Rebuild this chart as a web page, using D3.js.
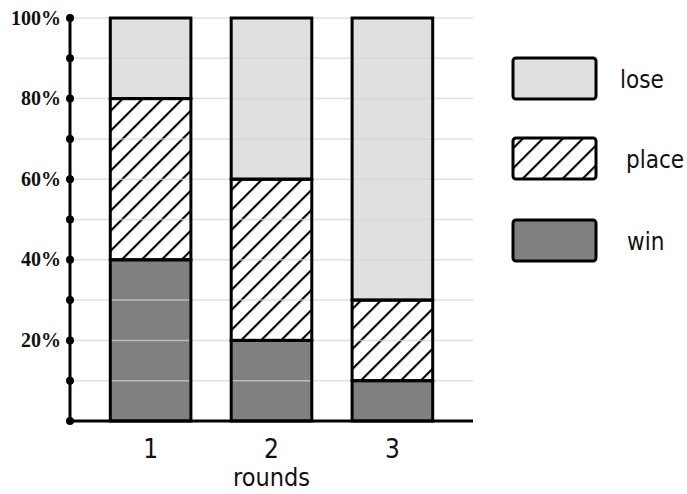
<!doctype html>
<html>
<head>
<meta charset="utf-8" />
<script src="https://cdn.jsdelivr.net/npm/d3@7"></script>
<style>
  body { margin: 0; background: #fff; }
  svg { display: block; }
</style>
</head>
<body>
<script type="text/javascript">

 var rounds = ["1", "2", "3"];
 var win = [40, 20, 10];
 var place = [40, 40, 20];
 var lose = [20, 40, 70];
 var yTicks = [20, 40, 60, 80, 100];
 var seriesNames = ["lose", "place", "win"];

 var w = 687, h = 494;
 var plotLeft = 70, plotRight = 473, plotTop = 18, plotBottom = 421;

 var svg = d3.select("body").append("svg")
     .attr("width", w)
     .attr("height", h);

 var defs = svg.append("defs");
 var pat = defs.append("pattern")
     .attr("id", "hatch")
     .attr("patternUnits", "userSpaceOnUse")
     .attr("width", 14.14)
     .attr("height", 14.14)
     .attr("patternTransform", "rotate(45)");
 pat.append("rect").attr("width", 14.14).attr("height", 14.14).attr("fill", "#fff");
 pat.append("line")
     .attr("x1", 1).attr("y1", 0).attr("x2", 1).attr("y2", 14.14)
     .attr("stroke", "#000").attr("stroke-width", 2.2);

 var fills = {win: "#808080", place: "url(#hatch)", lose: "#e0e0e0"};

 var data = rounds.map(function(r, i){
     return {round: r, win: win[i], place: place[i], lose: lose[i]};
 });

 var stack = d3.stack().keys(["win", "place", "lose"])(data);

 var xScale = d3.scaleBand()
     .domain(rounds)
     .range([plotLeft, plotRight])
     .paddingInner(1/3)
     .paddingOuter(1/3);

 var yScale = d3.scaleLinear()
     .domain([0, 100])
     .range([plotBottom, plotTop]);

 var segs = function(cls){
     return svg.selectAll("g." + cls)
         .data(stack)
         .enter()
         .append("g")
         .attr("class", cls)
         .selectAll("rect")
         .data(function(d){ return d.map(function(p){ p.key = d.key; return p; }); })
         .enter()
         .append("rect")
         .attr("x", function(d){ return xScale(d.data.round); })
         .attr("width", xScale.bandwidth())
         .attr("y", function(d){ return yScale(d[1]); })
         .attr("height", function(d){ return yScale(d[0]) - yScale(d[1]); });
 };

 // bar fills
 segs("fill").attr("fill", function(d){ return fills[d.key]; });

 // gridlines (over the fills, faint)
 var gridVals = d3.range(10, 101, 10);
 svg.selectAll("line.grid")
     .data(gridVals)
     .enter()
     .append("line")
     .attr("class", "grid")
     .attr("x1", plotLeft).attr("x2", plotRight)
     .attr("y1", function(d){ return yScale(d); })
     .attr("y2", function(d){ return yScale(d); })
     .attr("stroke", "#d4d4d4")
     .attr("stroke-opacity", 0.7)
     .attr("stroke-width", 1.5);

 // bar outlines
 segs("outline")
     .attr("fill", "none")
     .attr("stroke", "#000")
     .attr("stroke-width", 3);

 // axes
 svg.append("line")
     .attr("x1", plotLeft).attr("x2", plotLeft)
     .attr("y1", yScale(100)).attr("y2", yScale(0))
     .attr("stroke", "#000").attr("stroke-width", 3);
 svg.append("line")
     .attr("x1", plotLeft).attr("x2", plotRight)
     .attr("y1", yScale(0)).attr("y2", yScale(0))
     .attr("stroke", "#000").attr("stroke-width", 3);

 svg.selectAll("circle.tick")
     .data(d3.range(0, 101, 10))
     .enter()
     .append("circle")
     .attr("class", "tick")
     .attr("cx", plotLeft)
     .attr("cy", function(d){ return yScale(d); })
     .attr("r", 4)
     .attr("fill", "#000");

 svg.selectAll("text.ylab")
     .data(yTicks)
     .enter()
     .append("text")
     .attr("class", "ylab")
     .attr("x", 61)
     .attr("y", function(d){ return yScale(d) + 6.5; })
     .attr("text-anchor", "end")
     .attr("font-family", "'Liberation Serif', serif")
     .attr("font-weight", "bold")
     .attr("font-size", "20px")
     .attr("fill", "#111")
     .text(function(d){ return d + "%"; });

 var sans = "'DejaVu Sans Condensed', 'DejaVu Sans', sans-serif";

 svg.selectAll("text.xlab")
     .data(rounds)
     .enter()
     .append("text")
     .attr("class", "xlab")
     .attr("x", function(d){ return xScale(d) + xScale.bandwidth()/2; })
     .attr("y", 458)
     .attr("text-anchor", "middle")
     .attr("font-family", sans)
     .attr("font-size", "26px")
     .attr("fill", "#111")
     .text(function(d){ return d; });

 svg.append("text")
     .attr("x", xScale("2") + xScale.bandwidth()/2)
     .attr("y", 486)
     .attr("text-anchor", "middle")
     .attr("font-family", sans)
     .attr("font-size", "25px")
     .attr("fill", "#111")
     .text("rounds");

 // legend
 var legY = [58, 138, 220];
 var legTextX = [620, 626, 627];
 var leg = svg.selectAll("g.leg")
     .data(seriesNames)
     .enter()
     .append("g")
     .attr("class", "leg");
 leg.append("rect")
     .attr("x", 513)
     .attr("y", function(d, i){ return legY[i]; })
     .attr("width", 83)
     .attr("height", 41)
     .attr("rx", 3)
     .attr("fill", function(d){ return fills[d]; })
     .attr("stroke", "#000")
     .attr("stroke-width", 3);
 leg.append("text")
     .attr("x", function(d, i){ return legTextX[i]; })
     .attr("y", function(d, i){ return legY[i] + 30; })
     .attr("font-family", sans)
     .attr("font-size", "24px")
     .attr("fill", "#111")
     .text(function(d){ return d; });

</script>
</body>
</html>
